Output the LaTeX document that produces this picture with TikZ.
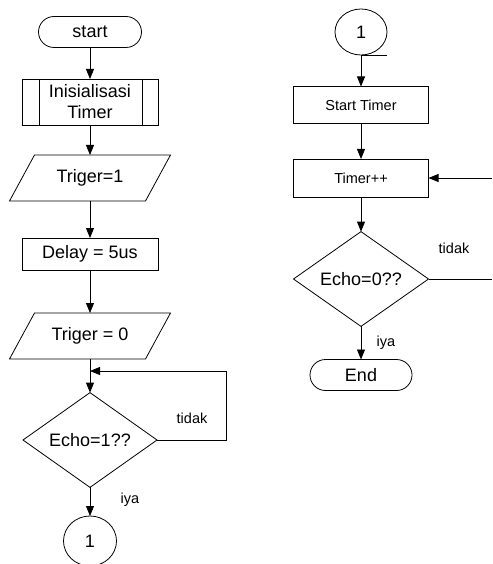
\documentclass[tikz,border=0pt]{standalone}
\usepackage{fontspec}
\setmainfont{Liberation Sans}
\usetikzlibrary{shapes.geometric,arrows.meta}
\begin{document}
\begin{tikzpicture}[x=1pt,y=-1pt,
  every node/.style={inner sep=0pt,outer sep=0pt},
  big/.style={font=\fontsize{18}{21}\selectfont},
  small/.style={font=\fontsize{14.5}{17}\selectfont},
  lbl/.style={font=\fontsize{14.5}{17}\selectfont},
  term/.style={draw,line width=0.8pt,rectangle,rounded corners=15.5pt,minimum width=103pt,minimum height=31pt},
  proc/.style={draw,line width=0.8pt,rectangle,minimum width=136pt},
  iobox/.style={rectangle,minimum width=136pt,minimum height=46pt},
  dec/.style={draw,line width=0.8pt,diamond,minimum width=134pt,minimum height=92pt},
  conn/.style={draw,line width=0.8pt,ellipse},
  line/.style={line width=0.8pt},
  arr/.style={line width=0.8pt,-{Triangle[length=10pt,width=8pt]}}
]
\useasboundingbox (0,0) rectangle (492,564);

% ---- left column ----
\node[term,big] (start) at (90,32) {start};
\node[proc,big,minimum height=46pt,align=center] (init) at (90,102) {Inisialisasi\\Timer};
\draw[line] ([xshift=17pt]init.north west) -- ([xshift=17pt]init.south west);
\draw[line] ([xshift=-16pt]init.north east) -- ([xshift=-16pt]init.south east);

\node[iobox,big] (t1) at (90,178) {Triger=1};
\draw[line] ([xshift=12.5pt]t1.north west) -- ([xshift=12.5pt]t1.north east)
  -- ([xshift=-12.5pt]t1.south east) -- ([xshift=-12.5pt]t1.south west) -- cycle;

\node[proc,big,minimum height=32pt] (delay) at (90,254) {Delay = 5us};

\node[iobox,big] (t0) at (90,336) {Triger = 0};
\draw[line] ([xshift=12.5pt]t0.north west) -- ([xshift=12.5pt]t0.north east)
  -- ([xshift=-12.5pt]t0.south east) -- ([xshift=-12.5pt]t0.south west) -- cycle;

\node[dec,big] (d1) at (90,440) {Echo=1??};
\node[conn,big,minimum width=53pt,minimum height=50pt] (c1) at (90,541) {1};

\coordinate (jn) at (90,371);

\draw[arr] (start) -- (init);
\draw[arr] (init) -- (t1.north);
\draw[arr] (t1.south) -- (delay);
\draw[arr] (delay) -- (t0.north);
\draw[arr] (t0.south) -- (d1.north);
\draw[arr] (d1.east) -- ++(69,0) |- (jn);
\draw[arr] (d1.south) -- (c1.north);

\node[lbl] (no1) at (192,418) {tidak};
\node[lbl] (yes1) at (130,500) {iya};

% ---- right column ----
\node[conn,big,minimum width=52pt,minimum height=46pt] (c2) at (361,32) {1};
\node[proc,small,minimum width=135pt,minimum height=37pt] (st) at (361,105) {Start Timer};
\node[proc,small,minimum width=135pt,minimum height=38pt] (tp) at (361,178) {Timer++};
\node[dec,big,minimum width=135pt,minimum height=91pt] (d2) at (361,279) {Echo=0??};
\node[term,big,minimum width=102pt] (end) at (361,375) {End};

\coordinate (inr) at (492,178);
\coordinate (outr) at (492,279);

\draw[line] (c2.south) -- ++(26,0);
\draw[arr] (c2.south) -- (st);
\draw[arr] (st) -- (tp);
\draw[arr] (inr) -- (tp.east);
\draw[arr] (tp) -- (d2.north);
\draw[line] (d2.east) -- (outr);
\draw[arr] (d2.south) -- (end);

\node[lbl] (no2) at (454,248) {tidak};
\node[lbl] (yes2) at (386,343) {iya};
\end{tikzpicture}
\end{document}
